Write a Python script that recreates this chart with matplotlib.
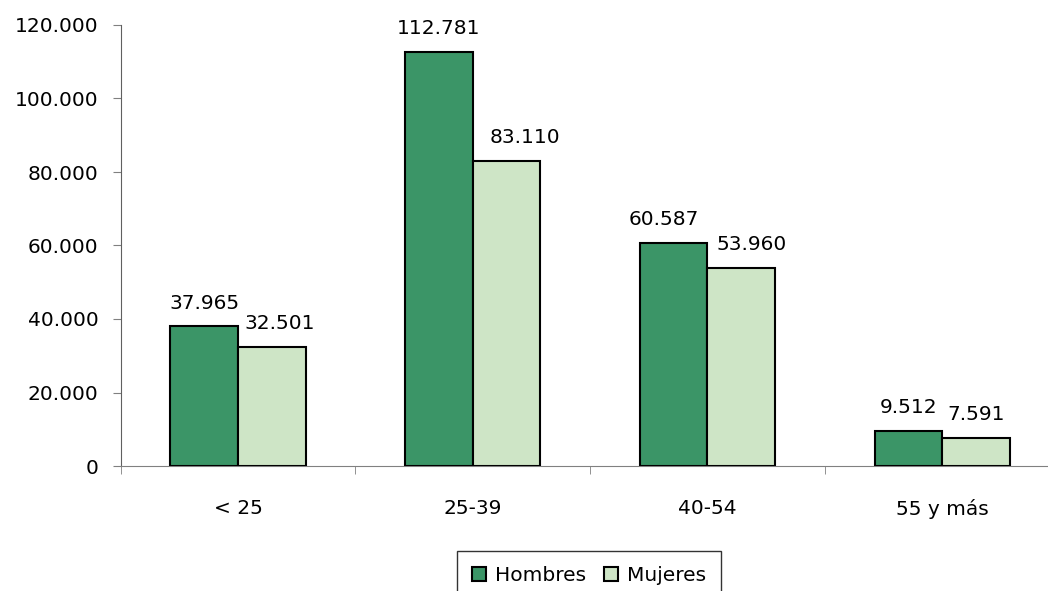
import matplotlib
matplotlib.use("Agg")
import matplotlib.pyplot as plt
import numpy as np

categories = ["< 25", "25-39", "40-54", "55 y más"]
hombres = [37965, 112781, 60587, 9512]
mujeres = [32501, 83110, 53960, 7591]
series_names = ["Hombres", "Mujeres"]
yticks = [0, 20000, 40000, 60000, 80000, 100000, 120000]
ytick_labels = ["0", "20.000", "40.000", "60.000", "80.000", "100.000", "120.000"]

c_h = "#3B9567"
c_m = "#CEE5C6"

plt.rcParams['font.family'] = ['DejaVu Sans']
fig = plt.figure(figsize=(10.48, 5.91), dpi=100)
W, H = 1048, 591
left_px, right_px = 120.7, 1048
top_px, bot_px = 25, 466
ax = fig.add_axes([left_px / W, (H - bot_px) / H, (right_px - left_px) / W, (bot_px - top_px) / H])

x = np.arange(len(categories))
bw = 0.288
b1 = ax.bar(x - bw / 2, hombres, bw, color=c_h, edgecolor="black", linewidth=1.5, label=series_names[0], zorder=3)
b2 = ax.bar(x + bw / 2, mujeres, bw, color=c_m, edgecolor="black", linewidth=1.5, label=series_names[1], zorder=3)

step = (right_px - left_px) / 234.7
ax.set_xlim(-0.5, -0.5 + step)
ax.set_ylim(0, 120000)

def fmt(v):
    return f"{v:,}".replace(",", ".")

nudge_h = [0, 0, -10, 0]
nudge_m = [8, 18, 10, 0]
fs = 14.5
for i, (bar, v) in enumerate(zip(b1, hombres)):
    ax.annotate(fmt(v), (bar.get_x() + bar.get_width() / 2, v), xytext=(nudge_h[i] * 0.72, 10),
                textcoords="offset points", ha="center", va="bottom", fontsize=fs)
for i, (bar, v) in enumerate(zip(b2, mujeres)):
    ax.annotate(fmt(v), (bar.get_x() + bar.get_width() / 2, v), xytext=(nudge_m[i] * 0.72, 10),
                textcoords="offset points", ha="center", va="bottom", fontsize=fs)

ax.set_yticks(yticks)
ax.set_yticklabels(ytick_labels, fontsize=fs)
ax.set_xticks(x)
ax.set_xticklabels(categories, fontsize=fs)
ax.tick_params(axis="x", length=0, pad=24)
ax.set_xticks(np.arange(-0.5, len(categories) - 0.5, 1.0), minor=True)
ax.tick_params(axis="x", which="minor", length=6, direction="out", color="#808080")
ax.tick_params(axis="y", length=6, direction="out", color="#808080", pad=10)

for s in ["top", "right"]:
    ax.spines[s].set_visible(False)
ax.spines["left"].set_color("#606060")
ax.spines["bottom"].set_color("#808080")

leg = fig.legend(handles=[b1, b2], labels=series_names, loc="upper center",
                 bbox_to_anchor=(589 / W, (H - 551) / H), ncol=2, frameon=True,
                 fontsize=fs, handlelength=0.7, handleheight=0.7, handletextpad=0.45,
                 columnspacing=0.85, borderpad=0.75, fancybox=False, borderaxespad=0)
leg.get_frame().set_edgecolor("black")
leg.get_frame().set_linewidth(1.0)

fig.savefig("out.png", dpi=100)
